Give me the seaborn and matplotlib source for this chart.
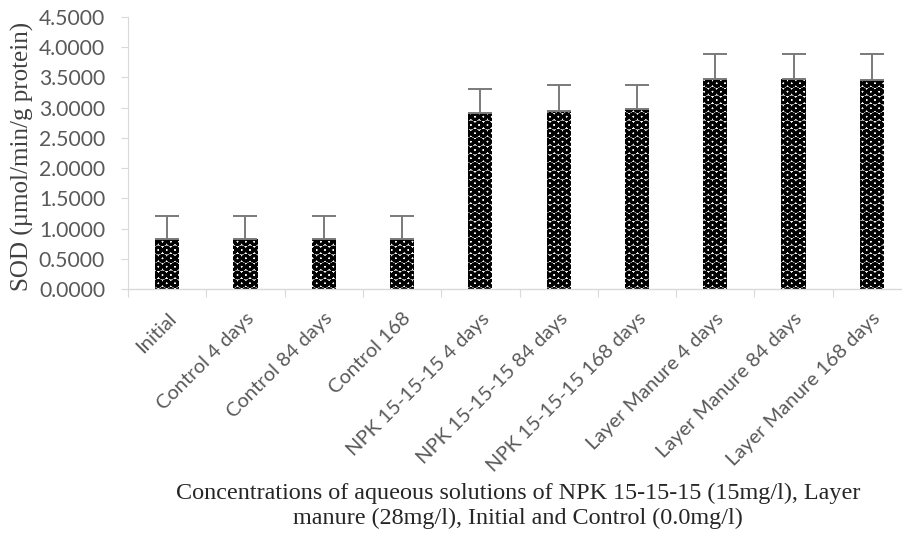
import matplotlib
matplotlib.use("Agg")
import matplotlib.pyplot as plt
import matplotlib.transforms as mtransforms
import seaborn as sns
import pandas as pd
import numpy as np

categories = ["Initial", "Control 4 days", "Control 84 days", "Control 168",
              "NPK 15-15-15 4 days", "NPK 15-15-15 84 days", "NPK 15-15-15 168 days",
              "Layer Manure 4 days", "Layer Manure 84 days", "Layer Manure 168 days"]
sod_values = [0.83, 0.83, 0.83, 0.83, 2.91, 2.95, 2.98, 3.48, 3.48, 3.46]
sod_errors = [0.38, 0.38, 0.38, 0.38, 0.40, 0.43, 0.40, 0.41, 0.41, 0.43]
y_ticks = [0.0, 0.5, 1.0, 1.5, 2.0, 2.5, 3.0, 3.5, 4.0, 4.5]

sns.set_theme(style="white")
plt.rcParams["hatch.linewidth"] = 2.1

df = pd.DataFrame({"cat": categories, "val": sod_values})

fig = plt.figure(figsize=(9.02, 5.33), dpi=100)
ax = fig.add_axes([128 / 902, 1 - 289 / 533, 783 / 902, 272 / 533])

sns.barplot(data=df, x="cat", y="val", ax=ax, color="white", width=0.31,
            edgecolor="black", linewidth=0, errorbar=None)
for p in ax.patches:
    p.set_hatch("OO")
    p.set_edgecolor("black")
    p.set_linewidth(0)

x = np.arange(len(categories))
ax.errorbar(x, sod_values, yerr=[np.zeros(len(sod_errors)), sod_errors], fmt="none",
            ecolor="#7a7a7a", elinewidth=1.4, capsize=8.5, capthick=1.4, zorder=5)

ax.set_ylim(0, 4.5)
ax.set_xlim(-0.5, len(categories) - 0.5)
ax.set_yticks(y_ticks)
ax.set_yticklabels([f"{t:.4f}" for t in y_ticks])
ax.set_xticks(x)
ax.set_xticklabels(categories, rotation=45, ha="right", rotation_mode="anchor")

gray = "#595959"
for lab in ax.get_yticklabels():
    lab.set_fontfamily("Lato")
    lab.set_fontsize(15.2)
    lab.set_color(gray)
shift = mtransforms.ScaledTranslation(-5 / 100, 0, fig.dpi_scale_trans)
for lab in ax.get_xticklabels():
    lab.set_fontfamily("Lato")
    lab.set_fontsize(14.5)
    lab.set_color(gray)
    lab.set_transform(lab.get_transform() + shift)

ax.tick_params(axis="x", length=0, pad=15)
ax.tick_params(axis="y", length=5, width=0.8, color="#d9d9d9", pad=11.5, direction="out", left=True)
ax.set_xticks(np.arange(len(categories) + 1) - 0.5, minor=True)
ax.tick_params(axis="x", which="minor", length=6, width=0.8, color="#d9d9d9", bottom=True)

for s in ["top", "right"]:
    ax.spines[s].set_visible(False)
ax.spines["left"].set_color("#d9d9d9")
ax.spines["left"].set_linewidth(0.8)
ax.spines["bottom"].set_color("#d9d9d9")
ax.spines["bottom"].set_linewidth(1.0)

ax.set_ylabel("")
ax.set_xlabel("")
fig.text(22 / 902, 1 - 156 / 533, "SOD (µmol/min/g protein)", rotation=90,
         ha="center", va="center", fontfamily="Liberation Serif", fontsize=18,
         color="#404040")
fig.text(518 / 902, 1 - 506 / 533,
         "Concentrations of aqueous solutions of NPK 15-15-15 (15mg/l), Layer\nmanure (28mg/l), Initial and Control (0.0mg/l)",
         ha="center", va="center", fontfamily="Liberation Serif", fontsize=17.4,
         color="#262626", linespacing=1.2)

fig.savefig("out.png", dpi=100)
